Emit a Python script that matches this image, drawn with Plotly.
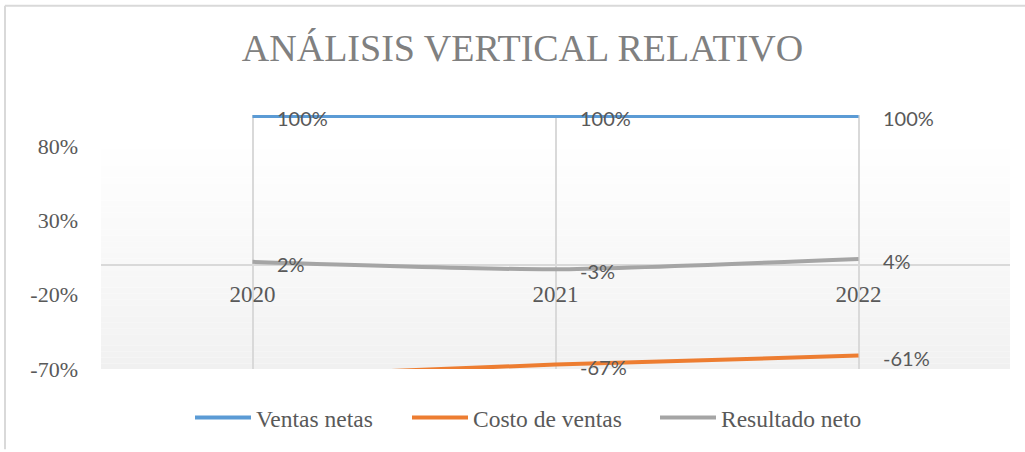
import plotly.graph_objects as go

# datos (en %)
years = ["2020", "2021", "2022"]
ventas_netas = [100, 100, 100]
costo_ventas = [-75, -67, -61]
resultado_neto = [2, -3, 4]

series_names = ["Ventas netas", "Costo de ventas", "Resultado neto"]
series_values = [ventas_netas, costo_ventas, resultado_neto]
colors = ["#5b9bd5", "#ed7d31", "#a5a5a5"]

y_tick_vals = [-70, -20, 30, 80]
y_tick_text = [f"{v}%" for v in y_tick_vals]

Y_MIN, Y_MAX = -70, 100.7
SERIF = "Liberation Serif, Times New Roman, serif"
SANS = "Lato, Carlito, sans-serif"

# area del grafico en px
W, H = 1025, 452
L, R, T, B = 101, 15, 115, 81
pw, ph = W - L - R, H - T - B

# inicio de cada entrada de la leyenda (px)
legend_x_px = [190, 407, 655]


def px_x(px):
    return (px - L) / pw


def px_y(py):
    return (H - B - py) / ph


fig = go.Figure()

legend_ids = ["legend", "legend2", "legend3"]
for name, vals, color, lid in zip(series_names, series_values, colors, legend_ids):
    fig.add_trace(
        go.Scatter(
            x=years,
            y=vals,
            name=name,
            mode="lines",
            line=dict(color=color, width=4, shape="spline", smoothing=0.6),
            hoverinfo="skip",
            legend=lid,
        )
    )

# etiquetas de datos (x por indice de categoria)
annotations = []
for vals in series_values:
    for i, v in enumerate(vals):
        if v < Y_MIN:
            continue
        annotations.append(
            dict(
                x=i, y=v, xref="x", yref="y",
                text=f"{v}%", showarrow=False,
                xanchor="left", yanchor="middle",
                xshift=22, yshift=-2,
                font=dict(family=SANS, size=20, color="#595959"),
            )
        )

# fondo degradado del area de trazado
shapes = []
n_bands = 40
g_top, g_bot = 86, Y_MIN
for i in range(n_bands):
    y0 = g_bot + (g_top - g_bot) * i / n_bands
    y1 = g_bot + (g_top - g_bot) * (i + 1) / n_bands
    t = (i + 0.5) / n_bands
    c = round(240 + (255 - 240) * t ** 0.8)
    shapes.append(
        dict(
            type="rect", xref="paper", yref="y",
            x0=0, x1=1, y0=y0, y1=y1,
            fillcolor=f"rgb({c},{c},{c})",
            line=dict(width=0), layer="below",
        )
    )

# borde del grafico (arriba e izquierda)
shapes.append(dict(type="line", xref="paper", yref="paper",
                   x0=px_x(5), x1=px_x(W), y0=px_y(5), y1=px_y(5),
                   line=dict(color="#d9d9d9", width=2)))
shapes.append(dict(type="line", xref="paper", yref="paper",
                   x0=px_x(5), x1=px_x(5), y0=px_y(5), y1=px_y(H),
                   line=dict(color="#d9d9d9", width=2)))


def legend_box(px):
    return dict(
        orientation="h",
        x=px_x(px), xanchor="left",
        y=px_y(420), yanchor="middle",
        font=dict(family=SERIF, size=23.5, color="#595959"),
        itemwidth=56,
        bgcolor="rgba(0,0,0,0)",
        borderwidth=0,
    )


fig.update_layout(
    width=W,
    height=H,
    margin=dict(l=L, r=R, t=T, b=B, pad=0),
    paper_bgcolor="white",
    plot_bgcolor="white",
    title=dict(
        text="ANÁLISIS VERTICAL RELATIVO",
        x=522.5 / W, xanchor="center", xref="container",
        y=1 - 48 / H, yanchor="middle", yref="container",
        font=dict(family=SERIF, size=38, color="#808080"),
    ),
    xaxis=dict(
        type="category",
        range=[-0.5, 2.5],
        anchor="free",
        position=(0 - Y_MIN) / (Y_MAX - Y_MIN),
        showline=False,
        showgrid=True,
        gridcolor="#d9d9d9",
        gridwidth=2,
        ticks="",
        ticklabelstandoff=13,
        tickfont=dict(family=SERIF, size=23, color="#595959"),
        fixedrange=True,
    ),
    yaxis=dict(
        range=[Y_MIN, Y_MAX],
        tickmode="array",
        tickvals=y_tick_vals,
        ticktext=y_tick_text,
        showgrid=False,
        zeroline=True,
        zerolinecolor="#d9d9d9",
        zerolinewidth=2,
        showline=False,
        ticks="",
        ticklabelstandoff=22,
        tickfont=dict(family=SERIF, size=22, color="#595959"),
        fixedrange=True,
    ),
    legend=legend_box(legend_x_px[0]),
    legend2=legend_box(legend_x_px[1]),
    legend3=legend_box(legend_x_px[2]),
    annotations=annotations,
    shapes=shapes,
    showlegend=True,
)

fig.write_html(
    "out.html",
    config={"displayModeBar": False},
    post_script="document.body.style.margin='0';",
)
